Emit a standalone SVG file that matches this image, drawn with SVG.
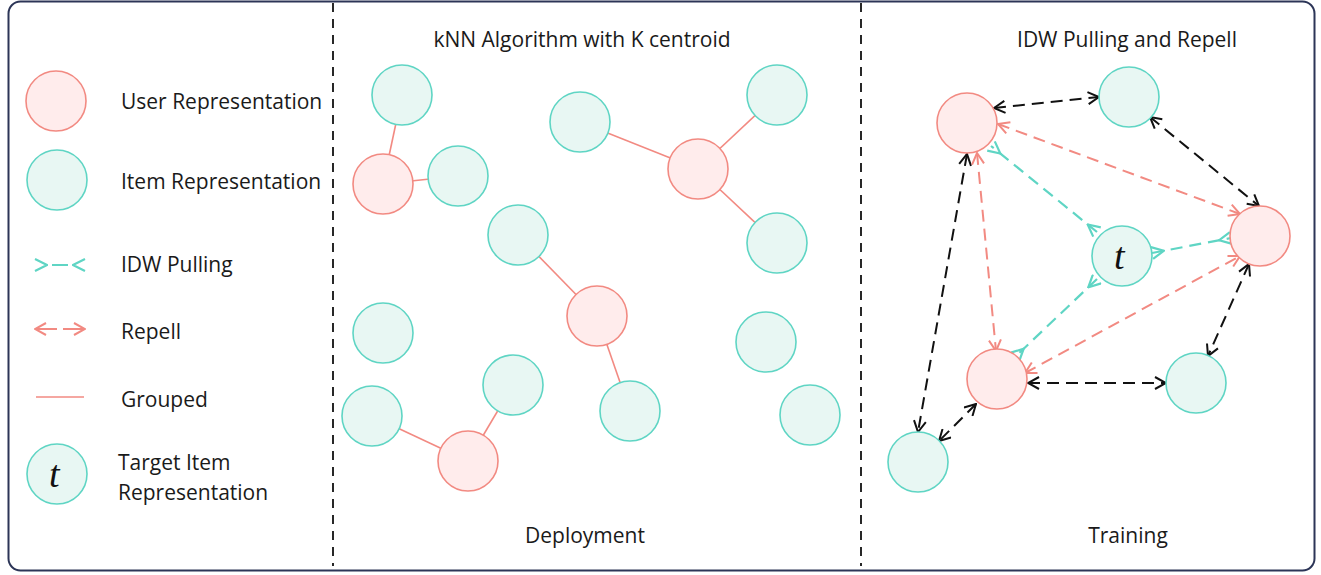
<svg xmlns="http://www.w3.org/2000/svg" width="1321" height="575" viewBox="0 0 1321 575">
<defs>
<style>
.u{fill:#ffecec;stroke:#f28a82;stroke-width:1.6}
.i{fill:#e8f7f3;stroke:#5fd5c4;stroke-width:1.6}
.t{font-family:"Open Sans","Noto Sans",sans-serif;font-size:21px;fill:#1a1a1a}
.g{stroke:#f28a82;stroke-width:1.6;fill:none}
.bk{stroke:#111;stroke-width:2;fill:none;stroke-dasharray:12 7;marker-start:url(#ab);marker-end:url(#ab)}
.rd{stroke:#f28a82;stroke-width:2;fill:none;stroke-dasharray:12 7;marker-start:url(#ar);marker-end:url(#ar)}
.tl{stroke:#5fd5c4;stroke-width:2.2;fill:none;stroke-dasharray:12 7;marker-start:url(#at);marker-end:url(#at)}
.tt{font-family:"Liberation Serif",serif;font-style:italic;font-size:38px;fill:#111}
</style>
<marker id="ab" viewBox="0 0 14 14" refX="13" refY="7" markerWidth="14" markerHeight="14" markerUnits="userSpaceOnUse" orient="auto-start-reverse"><path d="M2,1 L13,7 L2,13" fill="none" stroke="#111" stroke-width="2"/></marker>
<marker id="ar" viewBox="0 0 14 14" refX="13" refY="7" markerWidth="14" markerHeight="14" markerUnits="userSpaceOnUse" orient="auto-start-reverse"><path d="M2,1 L13,7 L2,13" fill="none" stroke="#f28a82" stroke-width="2"/></marker>
<marker id="at" viewBox="0 0 14 14" refX="13" refY="7" markerWidth="14" markerHeight="14" markerUnits="userSpaceOnUse" orient="auto-start-reverse"><path d="M13,1 L1,7 L13,13" fill="none" stroke="#5fd5c4" stroke-width="2.2"/></marker>
</defs>
<rect x="8.5" y="1.5" width="1306" height="569" rx="12" fill="#fff" stroke="#2c3557" stroke-width="2"/>
<g id="dividers" stroke="#111" stroke-width="1.8" stroke-dasharray="9 7">
<line x1="333" y1="3" x2="333" y2="566"/>
<line x1="861" y1="3" x2="861" y2="566"/>
</g>
<g id="legend">
<g id="leg-user"><circle class="u" cx="56" cy="101" r="30"/><text class="t" x="121" y="109">User Representation</text></g>
<g id="leg-item"><circle class="i" cx="57" cy="180" r="30"/><text class="t" x="121" y="189">Item Representation</text></g>
<g id="leg-idw"><line x1="35" y1="265" x2="85" y2="265" stroke="#5fd5c4" stroke-width="2.2" stroke-dasharray="0 17 16 100" marker-start="url(#at)" marker-end="url(#at)"/><text class="t" x="121" y="272">IDW Pulling</text></g>
<g id="leg-rep"><line x1="35" y1="329" x2="85" y2="329" stroke="#f28a82" stroke-width="2" stroke-dasharray="22 6 22" marker-start="url(#ar)" marker-end="url(#ar)"/><text class="t" x="121" y="339">Repell</text></g>
<g id="leg-grp"><line class="g" x1="36" y1="397" x2="84" y2="397"/><text class="t" x="121" y="407">Grouped</text></g>
<g id="leg-target"><circle class="i" cx="57" cy="474" r="30"/><text class="tt" x="49" y="487">t</text><text class="t" x="118" y="470">Target Item</text><text class="t" x="118" y="500">Representation</text></g>
</g>
<g id="titles">
<text class="t" x="582" y="47" text-anchor="middle">kNN Algorithm with K centroid</text>
<text class="t" x="585" y="543" text-anchor="middle">Deployment</text>
<text class="t" x="1127" y="47" text-anchor="middle">IDW Pulling and Repell</text>
<text class="t" x="1128" y="543" text-anchor="middle">Training</text>
</g>
<g id="connectors">
<line class="g" x1="402" y1="95" x2="383" y2="184"/>
<line class="g" x1="383" y1="184" x2="458" y2="176"/>
<line class="g" x1="580" y1="122" x2="698" y2="169"/>
<line class="g" x1="698" y1="169" x2="777" y2="95"/>
<line class="g" x1="698" y1="169" x2="777" y2="243"/>
<line class="g" x1="518" y1="235" x2="597" y2="316"/>
<line class="g" x1="597" y1="316" x2="630" y2="411"/>
<line class="g" x1="468" y1="461" x2="372" y2="416"/>
<line class="g" x1="468" y1="461" x2="513" y2="385"/>
<line class="bk" x1="994" y1="108" x2="1099" y2="97"/>
<line class="bk" x1="1150" y1="117" x2="1259" y2="206"/>
<line class="bk" x1="967" y1="154" x2="918" y2="432"/>
<line class="bk" x1="1249" y1="264" x2="1208" y2="356"/>
<line class="bk" x1="1028" y1="383" x2="1166" y2="383"/>
<line class="bk" x1="976" y1="404" x2="939" y2="441"/>
<line class="rd" x1="998" y1="124" x2="1240" y2="214"/>
<line class="rd" x1="1025" y1="373" x2="1240" y2="256"/>
<line class="rd" x1="977" y1="153" x2="996" y2="351"/>
<line class="tl" x1="1097" y1="232" x2="991" y2="146"/>
<line class="tl" x1="1152" y1="253" x2="1231" y2="238"/>
<line class="tl" x1="1097" y1="279" x2="1015" y2="357"/>
</g>
<g id="deploy-nodes">
<circle id="d1" class="i" cx="402" cy="95" r="30"/>
<circle id="d2" class="u" cx="383" cy="184" r="30"/>
<circle id="d3" class="i" cx="458" cy="176" r="30"/>
<circle id="d4" class="i" cx="580" cy="122" r="30"/>
<circle id="d5" class="u" cx="698" cy="169" r="30"/>
<circle id="d6" class="i" cx="777" cy="95" r="30"/>
<circle id="d7" class="i" cx="518" cy="235" r="30"/>
<circle id="d8" class="i" cx="777" cy="243" r="30"/>
<circle id="d9" class="u" cx="597" cy="316" r="30"/>
<circle id="d10" class="i" cx="383" cy="333" r="30"/>
<circle id="d11" class="i" cx="766" cy="342" r="30"/>
<circle id="d12" class="i" cx="513" cy="385" r="30"/>
<circle id="d13" class="i" cx="372" cy="416" r="30"/>
<circle id="d14" class="i" cx="630" cy="411" r="30"/>
<circle id="d15" class="i" cx="810" cy="415" r="30"/>
<circle id="d16" class="u" cx="468" cy="461" r="30"/>
</g>
<g id="train-nodes">
<circle id="tA" class="u" cx="967" cy="123" r="30"/>
<circle id="tI1" class="i" cx="1129" cy="97" r="30"/>
<circle id="tB" class="u" cx="1260" cy="236" r="30"/>
<g id="tT"><circle class="i" cx="1122" cy="256" r="30"/><text class="tt" x="1114" y="269">t</text></g>
<circle id="tC" class="u" cx="997" cy="379" r="30"/>
<circle id="tI2" class="i" cx="1196" cy="383" r="30"/>
<circle id="tI3" class="i" cx="918" cy="462" r="30"/>
</g>
</svg>
